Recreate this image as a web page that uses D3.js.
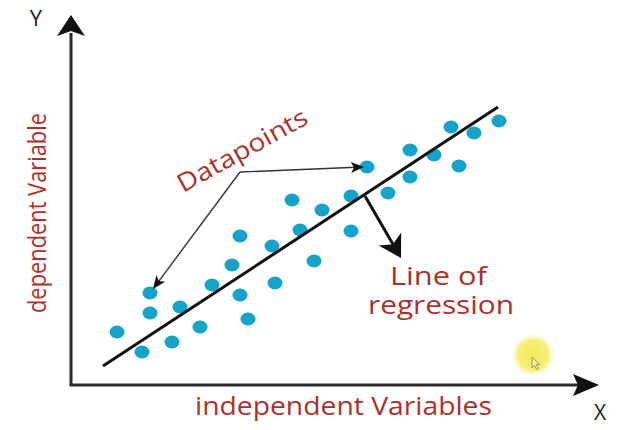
<!DOCTYPE html>
<html>
<head>
<meta charset="utf-8">
<script src="https://cdn.jsdelivr.net/npm/d3@7"></script>
<style>
  html, body { margin: 0; padding: 0; background: #fff; }
  svg { display: block; }
</style>
</head>
<body>
<div id="chart"></div>
<script>
// data (x, y in chart units)
const dotX = [2.3, 3.55, 3.95, 3.95, 5.05, 5.45, 6.45, 7.05, 8.05, 8.45, 8.45, 8.85, 10.05, 10.2, 11.05,
  11.45, 12.15, 12.55, 14.0, 14.0, 14.8, 15.85, 16.95, 16.95, 18.15, 19.0, 19.4, 20.15, 21.4]
const dotY = [2.65, 1.65, 4.6, 3.6, 2.15, 3.9, 2.9, 5.0, 6.0, 7.45, 4.5, 3.3, 6.95, 5.1, 9.25,
  7.75, 6.2, 8.75, 9.45, 7.7, 10.9, 9.6, 11.75, 10.4, 11.5, 12.9, 10.95, 12.6, 13.2]
const regLine = [[1.6, 0.95], [21.35, 13.9]]
const pointerHub = [8.45, 10.65]
const pointerTargets = [[4.1, 4.8], [14.65, 10.9]]
const lineArrow = [[14.7, 9.45], [16.5, 6.35]]
const labels = {
  x: 'independent Variables',
  y: 'dependent Variable',
  points: 'Datapoints',
  line: ['Line of', 'regression']
}

const width = 627
const height = 430
const red = '#a8322d'
const font = '"Open Sans", "Noto Sans", sans-serif'

const x = d3.scaleLinear().domain([0, 26.4]).range([71, 599])
const y = d3.scaleLinear().domain([0, 18.5]).range([385, 15])

const svg = d3.select('#chart').append('svg')
  .attr('width', width)
  .attr('height', height)

// arrowhead with a notch, tip at (tx, ty), pointing along angle a
function arrowHead(g, tx, ty, a, len, half, notch, fill) {
  const c = Math.cos(a), s = Math.sin(a)
  const pt = (u, v) => [tx - u * c - v * s, ty - u * s + v * c]
  g.append('path')
    .attr('d', d3.line()([pt(0, 0), pt(len, half), pt(len - notch, 0), pt(len, -half)]) + 'Z')
    .attr('fill', fill)
}

// yellow cursor highlight
const grad = svg.append('defs').append('radialGradient').attr('id', 'glow')
grad.append('stop').attr('offset', '0%').attr('stop-color', '#f2ea55')
grad.append('stop').attr('offset', '70%').attr('stop-color', '#f5ef7a')
grad.append('stop').attr('offset', '100%').attr('stop-color', '#fbf9d8').attr('stop-opacity', 0)
svg.append('circle')
  .attr('cx', x(23.1)).attr('cy', y(1.5)).attr('r', 22)
  .attr('fill', 'url(#glow)')
const cx = x(23.05), cy = y(1.4)
svg.append('path')
  .attr('d', `M${cx},${cy} l0,11 l2.5,-2.5 l2,4 l1.8,-0.9 l-2,-4 l3.5,0 Z`)
  .attr('fill', '#f7f4b0').attr('stroke', '#9a9250').attr('stroke-width', 1)

// axes
const axes = svg.append('g')
axes.append('line')
  .attr('x1', x(0)).attr('y1', y(0)).attr('x2', x(0)).attr('y2', y(18) + 8)
  .attr('stroke', '#2a2a2a').attr('stroke-width', 3)
axes.append('line')
  .attr('x1', x(0) - 1.5).attr('y1', y(0)).attr('x2', x(26.4) - 8).attr('y2', y(0))
  .attr('stroke', '#2a2a2a').attr('stroke-width', 3)
arrowHead(axes, x(0), y(18.5), -Math.PI / 2, 21, 14, 5, '#111')
arrowHead(axes, x(26.4), y(0), 0, 26, 11, 5, '#111')

svg.append('text')
  .attr('x', 36).attr('y', 26)
  .attr('text-anchor', 'middle')
  .attr('font-family', font).attr('font-size', 22)
  .attr('fill', '#222')
  .text('Y')
svg.append('text')
  .attr('x', 600).attr('y', 420)
  .attr('text-anchor', 'middle')
  .attr('font-family', font).attr('font-size', 21)
  .attr('fill', '#222')
  .text('X')

// axis titles
svg.append('text')
  .attr('x', 195).attr('y', 415)
  .attr('font-family', font).attr('font-size', 25)
  .attr('fill', red)
  .attr('textLength', 297).attr('lengthAdjust', 'spacingAndGlyphs')
  .text(labels.x)
svg.append('text')
  .attr('transform', 'translate(46,313) rotate(-90)')
  .attr('font-family', font).attr('font-size', 26)
  .attr('fill', red)
  .attr('textLength', 200).attr('lengthAdjust', 'spacingAndGlyphs')
  .text(labels.y)

// dots
svg.append('g')
  .selectAll('ellipse')
  .data(dotX.map((d, i) => [d, dotY[i]]))
  .join('ellipse')
  .attr('cx', (d) => x(d[0]))
  .attr('cy', (d) => y(d[1]))
  .attr('rx', 7.5)
  .attr('ry', 6.5)
  .attr('fill', '#17a3c8')

// regression line
svg.append('path')
  .attr('d', d3.line().x((d) => x(d[0])).y((d) => y(d[1]))(regLine))
  .attr('stroke', '#111').attr('stroke-width', 3)
  .attr('fill', 'none')

// "Datapoints" pointers
const ptr = svg.append('g')
for (const t of pointerTargets) {
  const x0 = x(pointerHub[0]), y0 = y(pointerHub[1])
  const x1 = x(t[0]), y1 = y(t[1])
  const a = Math.atan2(y1 - y0, x1 - x0)
  ptr.append('line')
    .attr('x1', x0).attr('y1', y0)
    .attr('x2', x1 - 8 * Math.cos(a)).attr('y2', y1 - 8 * Math.sin(a))
    .attr('stroke', '#333').attr('stroke-width', 1.4)
  arrowHead(ptr, x1, y1, a, 13, 5.5, 3, '#111')
}
svg.append('text')
  .attr('transform', 'translate(183,193) rotate(-29)')
  .attr('font-family', font).attr('font-size', 25)
  .attr('fill', red)
  .attr('textLength', 145).attr('lengthAdjust', 'spacingAndGlyphs')
  .text(labels.points)

// "Line of regression" pointer
{
  const x0 = x(lineArrow[0][0]), y0 = y(lineArrow[0][1])
  const x1 = x(lineArrow[1][0]), y1 = y(lineArrow[1][1])
  const a = Math.atan2(y1 - y0, x1 - x0)
  svg.append('line')
    .attr('x1', x0).attr('y1', y0)
    .attr('x2', x1 - 14 * Math.cos(a)).attr('y2', y1 - 14 * Math.sin(a))
    .attr('stroke', '#111').attr('stroke-width', 3)
  arrowHead(svg, x1, y1, a, 22, 13, 6, '#111')
}
svg.append('text')
  .attr('x', 390).attr('y', 285)
  .attr('font-family', font).attr('font-size', 25)
  .attr('fill', red)
  .attr('textLength', 97).attr('lengthAdjust', 'spacingAndGlyphs')
  .text(labels.line[0])
svg.append('text')
  .attr('x', 368).attr('y', 314)
  .attr('font-family', font).attr('font-size', 25)
  .attr('fill', red)
  .attr('textLength', 146).attr('lengthAdjust', 'spacingAndGlyphs')
  .text(labels.line[1])
</script>
</body>
</html>
